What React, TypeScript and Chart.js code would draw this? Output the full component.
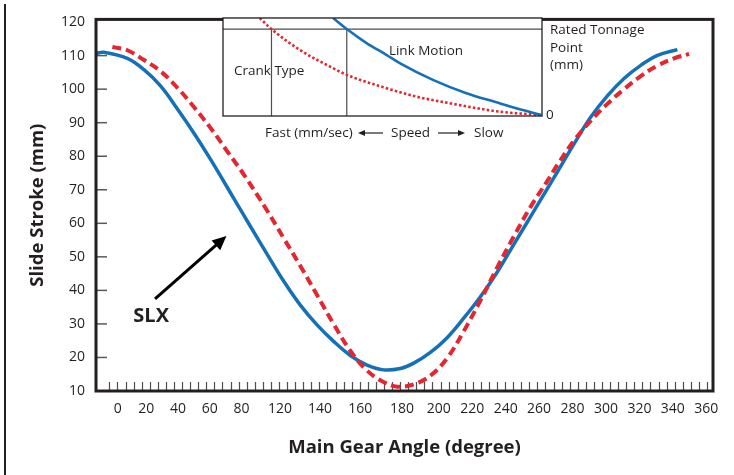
import React, { useEffect, useRef } from "react";
import { Chart, registerables } from "chart.js";

Chart.register(...registerables);

// ---------- data ----------
const xTickPositions = [10, 27, 46, 65, 84, 107, 131, 155, 180, 202, 222, 242, 262, 282, 302, 322, 342, 362];
const xTickLabels = ["0", "20", "40", "60", "80", "120", "140", "160", "180", "200", "220", "240", "260", "280", "300", "320", "340", "360"];
const yTickValues = [10, 20, 30, 40, 50, 60, 70, 80, 90, 100, 110, 120];
const yInnerTickValues = [20, 30, 40, 50, 60, 70, 80, 90, 100, 110];

// SLX (link motion) – solid blue
const slxAngle = [-3, 1.8, 15.7, 25.7, 35.7, 45.7, 55.7, 65.7, 79.2, 89.2, 99.2, 109.2, 119.2, 129.2, 139.1, 149.1, 159.1, 169, 179, 187, 197, 207, 216.9, 226.9, 236.9, 246.9, 256.9, 266.9, 272.9, 282.8, 292.8, 302.8, 312.8, 322.8, 332.8, 344.7];
const slxStroke = [110.7, 111.0, 109.2, 105.8, 100.9, 94.1, 86.8, 78.9, 67.6, 59.2, 50.9, 42.8, 35.6, 29.7, 24.8, 20.6, 17.7, 16.3, 16.7, 18.3, 21.5, 25.9, 31.7, 38.1, 45.4, 53.7, 62.0, 70.3, 75.3, 83.6, 91.6, 98.0, 103.2, 107.1, 110.1, 111.8];

// Crank – dashed red
const crankAngle = [6.8, 15.7, 25.7, 35.7, 45.7, 55.7, 65.7, 75.6, 85.6, 99.2, 109.2, 119.2, 129.2, 139.1, 149.1, 159.1, 169.0, 177.1, 187.0, 197.0, 207.0, 216.9, 226.9, 236.9, 246.9, 256.9, 266.9, 272.9, 282.8, 292.8, 302.8, 312.8, 322.8, 332.8, 342.7, 351.7];
const crankStroke = [112.6, 111.6, 108.7, 105.3, 100.4, 94.6, 88.3, 81.4, 74.4, 63.9, 55.6, 47.3, 38.6, 30.0, 22.0, 16.1, 12.7, 11.3, 12.0, 14.6, 19.8, 27.8, 37.0, 46.8, 56.1, 64.9, 72.6, 77.4, 84.6, 90.5, 95.6, 100.0, 103.9, 107.0, 109.2, 110.5];

// Inset (speed vs rated tonnage point), arbitrary 0..100 units
const insetLinkSpeed = [34.5, 38.8, 45.0, 51.2, 55.4, 65.8, 76.3, 86.7, 90.8, 99.8];
const insetLinkPoint = [100, 88.7, 74.4, 62.4, 53.9, 36.8, 23.2, 13.0, 8.9, 1.0];
const insetCrankSpeed = [11.5, 15.2, 24.0, 34.5, 38.8, 50.2, 60.6, 71.1, 81.5, 86.7, 99.8];
const insetCrankPoint = [100, 88.7, 67.6, 48.8, 42.0, 29.4, 19.8, 13.0, 6.9, 4.4, 1.0];
const insetRatedLevel = 88.7;
const insetCrankCross = 15.2;
const insetLinkCross = 38.8;

// ---------- styles ----------
const FONT = '"Open Sans", "DejaVu Sans", sans-serif';
const INK = "#231f20";
const BLUE = "#1570b8";
const RED = "#e3262f";

function line(ctx: CanvasRenderingContext2D, x1: number, y1: number, x2: number, y2: number) {
  ctx.beginPath();
  ctx.moveTo(x1, y1);
  ctx.lineTo(x2, y2);
  ctx.stroke();
}

function arrowHead(ctx: CanvasRenderingContext2D, tx: number, ty: number, ang: number, len: number, half: number) {
  ctx.beginPath();
  ctx.moveTo(tx, ty);
  ctx.lineTo(tx - len * Math.cos(ang) + half * Math.sin(ang), ty - len * Math.sin(ang) - half * Math.cos(ang));
  ctx.lineTo(tx - len * Math.cos(ang) - half * Math.sin(ang), ty - len * Math.sin(ang) + half * Math.cos(ang));
  ctx.closePath();
  ctx.fill();
}

const framePlugin = {
  id: "frame",
  beforeDatasetsDraw(chart: any) {
    const { ctx, chartArea: a, scales } = chart;
    const x = scales.x, y = scales.y;
    ctx.save();
    ctx.strokeStyle = "#58595b";
    ctx.lineWidth = 1.5;
    for (const v of yInnerTickValues) {
      const py = y.getPixelForValue(v);
      line(ctx, a.left, py, a.left + 11, py);
    }
    ctx.lineWidth = 1.2;
    ctx.strokeStyle = "#4d4d4f";
    for (let v = 5; v < x.max - 1; v += 4.83) {
      const px = Math.round(x.getPixelForValue(v)) + 0.5;
      line(ctx, px, a.bottom, px, a.bottom - 9);
    }
    ctx.restore();
  },
  afterDatasetsDraw(chart: any) {
    const { ctx, chartArea: a, scales } = chart;
    const x = scales.x, y = scales.y;
    ctx.save();
    ctx.strokeStyle = INK;
    ctx.lineWidth = 3;
    ctx.strokeRect(a.left, a.top, a.right - a.left, a.bottom - a.top);
    // page rule at far left
    ctx.fillStyle = INK;
    ctx.fillRect(4, 4, 2, chart.height - 4);
    // SLX arrow
    const tx0 = x.getPixelForValue(32.3), ty0 = y.getPixelForValue(37.5);
    const tx1 = x.getPixelForValue(75), ty1 = y.getPixelForValue(56.2);
    const ang = Math.atan2(ty1 - ty0, tx1 - tx0);
    ctx.strokeStyle = "#000";
    ctx.fillStyle = "#000";
    ctx.lineWidth = 3;
    line(ctx, tx0, ty0, tx1 - 10 * Math.cos(ang), ty1 - 10 * Math.sin(ang));
    arrowHead(ctx, tx1, ty1, ang, 14, 6.5);
    // SLX label
    ctx.fillStyle = INK;
    ctx.font = `bold 20px ${FONT}`;
    ctx.textAlign = "center";
    ctx.textBaseline = "middle";
    ctx.fillText("SLX", x.getPixelForValue(30), y.getPixelForValue(32.2));
    ctx.restore();
  },
};

const insetPlugin = {
  id: "insetFrame",
  beforeDatasetsDraw(chart: any) {
    const { ctx, chartArea: a, scales } = chart;
    const x = scales.x, y = scales.y;
    ctx.save();
    ctx.fillStyle = "#fff";
    ctx.fillRect(a.left, a.top, a.right - a.left, a.bottom - a.top);
    ctx.strokeStyle = "#4d4d4f";
    ctx.lineWidth = 1.2;
    const ry = y.getPixelForValue(insetRatedLevel);
    line(ctx, a.left, ry, a.right, ry);
    const c1 = x.getPixelForValue(insetCrankCross);
    const c2 = x.getPixelForValue(insetLinkCross);
    line(ctx, c1, ry, c1, a.bottom);
    line(ctx, c2, ry, c2, a.bottom);
    ctx.restore();
  },
  afterDatasetsDraw(chart: any) {
    const { ctx, chartArea: a } = chart;
    ctx.save();
    ctx.strokeStyle = INK;
    ctx.lineWidth = 1.3;
    ctx.strokeRect(a.left, a.top, a.right - a.left, a.bottom - a.top);
    ctx.fillStyle = INK;
    ctx.font = `13.5px ${FONT}`;
    ctx.textBaseline = "middle";
    ctx.textAlign = "left";
    ctx.fillText("Crank Type", a.left + 11, a.top + 53.5);
    ctx.textAlign = "center";
    ctx.fillText("Link Motion", a.left + 203, a.top + 33.5);
    ctx.textAlign = "left";
    ctx.fillText("Rated Tonnage", a.right + 8, a.top + 12.5);
    ctx.fillText("Point", a.right + 8, a.top + 30);
    ctx.fillText("(mm)", a.right + 8, a.top + 47.5);
    ctx.fillText("0", a.right + 4, a.bottom - 0.5);
    const by = a.bottom + 17;
    ctx.fillText("Fast (mm/sec)", a.left + 42, by);
    ctx.fillText("Speed", a.left + 168, by);
    ctx.fillText("Slow", a.left + 251, by);
    // speed arrows
    ctx.strokeStyle = INK;
    ctx.lineWidth = 1.2;
    line(ctx, a.left + 137, by, a.left + 160, by);
    arrowHead(ctx, a.left + 135, by, Math.PI, 7, 3);
    line(ctx, a.left + 215, by, a.left + 240, by);
    arrowHead(ctx, a.left + 242, by, 0, 7, 3);
    ctx.restore();
  },
};

export default function App() {
  const mainRef = useRef<HTMLCanvasElement>(null);
  const insetRef = useRef<HTMLCanvasElement>(null);

  useEffect(() => {
    const main = new Chart(mainRef.current as HTMLCanvasElement, {
      type: "line",
      data: {
        datasets: [
          {
            label: "SLX",
            data: slxAngle.map((a, i) => ({ x: a, y: slxStroke[i] })),
            borderColor: BLUE,
            borderWidth: 3.5,
            pointRadius: 0,
            fill: false,
            tension: 0.4,
            order: 1,
          },
          {
            label: "Crank",
            data: crankAngle.map((a, i) => ({ x: a, y: crankStroke[i] })),
            borderColor: RED,
            borderWidth: 4,
            borderDash: [9, 5],
            pointRadius: 0,
            fill: false,
            tension: 0.4,
            order: 0,
          },
        ],
      },
      options: {
        responsive: false,
        animation: false,
        layout: { padding: { left: 0, top: 11, right: 21, bottom: 0 } },
        plugins: { legend: { display: false }, tooltip: { enabled: false } },
        scales: {
          x: {
            type: "linear",
            min: -3,
            max: 366,
            afterBuildTicks: (s: any) => {
              s.ticks = xTickPositions.map((v) => ({ value: v }));
            },
            afterFit: (s: any) => {
              s.height = 84;
            },
            grid: { display: false, drawTicks: false },
            border: { display: false },
            ticks: {
              autoSkip: false,
              maxRotation: 0,
              padding: 10,
              color: INK,
              font: { family: FONT, size: 14 },
              callback: (_v: any, i: number) => xTickLabels[i],
            },
            title: {
              display: true,
              text: "Main Gear Angle (degree)",
              color: INK,
              font: { family: FONT, size: 18.5, weight: "bold", lineHeight: 1.2 },
              padding: { top: 0, bottom: 16 },
            },
          },
          y: {
            type: "linear",
            min: 10,
            max: 120.8,
            afterBuildTicks: (s: any) => {
              s.ticks = yTickValues.map((v) => ({ value: v }));
            },
            afterFit: (s: any) => {
              s.width = 96;
            },
            grid: { display: false, drawTicks: false },
            border: { display: false },
            ticks: {
              padding: 11,
              color: INK,
              font: { family: FONT, size: 14 },
            },
            title: {
              display: true,
              text: "Slide Stroke (mm)",
              color: INK,
              font: { family: FONT, size: 18.5, weight: "bold", lineHeight: 1.2 },
              padding: { top: 27, bottom: 0 },
            },
          },
        },
      },
      plugins: [framePlugin],
    } as any);

    const inset = new Chart(insetRef.current as HTMLCanvasElement, {
      type: "line",
      data: {
        datasets: [
          {
            label: "Link Motion",
            data: insetLinkSpeed.map((s, i) => ({ x: s, y: insetLinkPoint[i] })),
            borderColor: BLUE,
            borderWidth: 2.6,
            pointRadius: 0,
            cubicInterpolationMode: "monotone",
          },
          {
            label: "Crank Type",
            data: insetCrankSpeed.map((s, i) => ({ x: s, y: insetCrankPoint[i] })),
            borderColor: RED,
            borderWidth: 2.6,
            borderDash: [2.5, 2.2],
            pointRadius: 0,
            cubicInterpolationMode: "monotone",
          },
        ],
      },
      options: {
        responsive: false,
        animation: false,
        layout: { padding: { left: 23, top: 18, right: 192, bottom: 34 } },
        plugins: { legend: { display: false }, tooltip: { enabled: false } },
        scales: {
          x: { type: "linear", display: false, min: 0, max: 100 },
          y: { type: "linear", display: false, min: 0, max: 100 },
        },
      },
      plugins: [insetPlugin],
    } as any);

    return () => {
      main.destroy();
      inset.destroy();
    };
  }, []);

  return (
    <div style={{ position: "fixed", left: 0, top: 0, width: 734, height: 475, background: "#fff", overflow: "hidden" }}>
      <canvas ref={mainRef} width={734} height={475} style={{ position: "absolute", left: 0, top: 0 }} />
      <canvas ref={insetRef} width={534} height={150} style={{ position: "absolute", left: 200, top: 0, pointerEvents: "none" }} />
    </div>
  );
}
